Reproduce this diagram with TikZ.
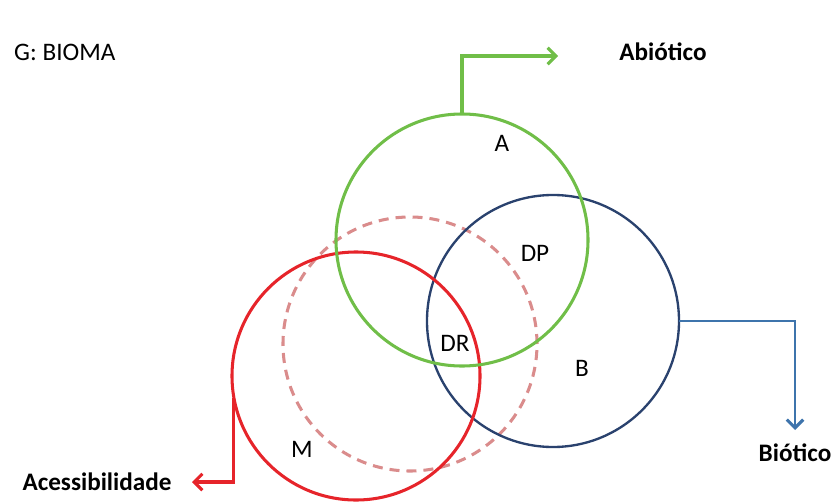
\documentclass[tikz,border=0pt]{standalone}
\usepackage{fontspec}
\setmainfont{Carlito}
\usetikzlibrary{arrows.meta}
\definecolor{abgreen}{RGB}{112,190,72}
\definecolor{bionavy}{RGB}{42,66,110}
\definecolor{bioblue}{RGB}{62,116,172}
\definecolor{accred}{RGB}{230,36,42}
\definecolor{potpink}{RGB}{218,140,140}
\tikzset{setcirc/.style={circle, draw=#1, line width=2.6pt, inner sep=0pt, outer sep=0pt, minimum size=7.56cm},
%labels in the circles and the words outside
lbl/.style={font=\fontsize{21.5}{25}\selectfont, inner sep=0pt},
blbl/.style={lbl, font=\fontsize{21.5}{25}\selectfont\bfseries},
link/.style={line width=2.6pt, -{Straight Barb[length=7pt, width=14pt, line width=2.6pt]}}}

\begin{document}
\begin{tikzpicture}[x=0.03cm, y=-0.03cm]
\useasboundingbox (0,0) rectangle (834,503);
%\draw [help lines] (0,0) grid (834,503);
% circles
\node[setcirc=potpink, dash pattern=on 0.3cm off 0.21cm, minimum size=7.62cm] (pot) at (410,344) {};
\node[setcirc=bionavy, line width=2pt] (bio) at (553,321) {};
\node[setcirc=accred, minimum size=7.44cm] (acc) at (356,376) {};
\node[setcirc=abgreen] (abio) at (462,240) {};

% region letters
\node[lbl] (lA) at (502,143) {A};
\node[lbl] (lDP) at (535,253) {DP};
\node[lbl] (lDR) at (455,343) {DR};
\node[lbl] (lB) at (582,368) {B};
\node[lbl] (lM) at (302,449) {M};

%outside labels
\node[lbl, anchor=west] (bioma) at (14,52) {G: BIOMA};
\node[blbl] (tabio) at (663,52) {Abiótico};
\node[blbl] (tbio) at (795,453) {Biótico};
\node[blbl] (tacc) at (97,482) {Acessibilidade};

% arrows
\coordinate (abioEnd) at (558,56);
\coordinate (bioEnd) at (795,430);
\coordinate (accEnd) at (192,482);
\draw[link, abgreen] (abio.north) |- (abioEnd);
\draw[link, bioblue, line width=2.3pt] (bio.east) -| (bioEnd);
\draw[link, accred] (acc.190) |- (accEnd);

\end{tikzpicture}
\end{document}
